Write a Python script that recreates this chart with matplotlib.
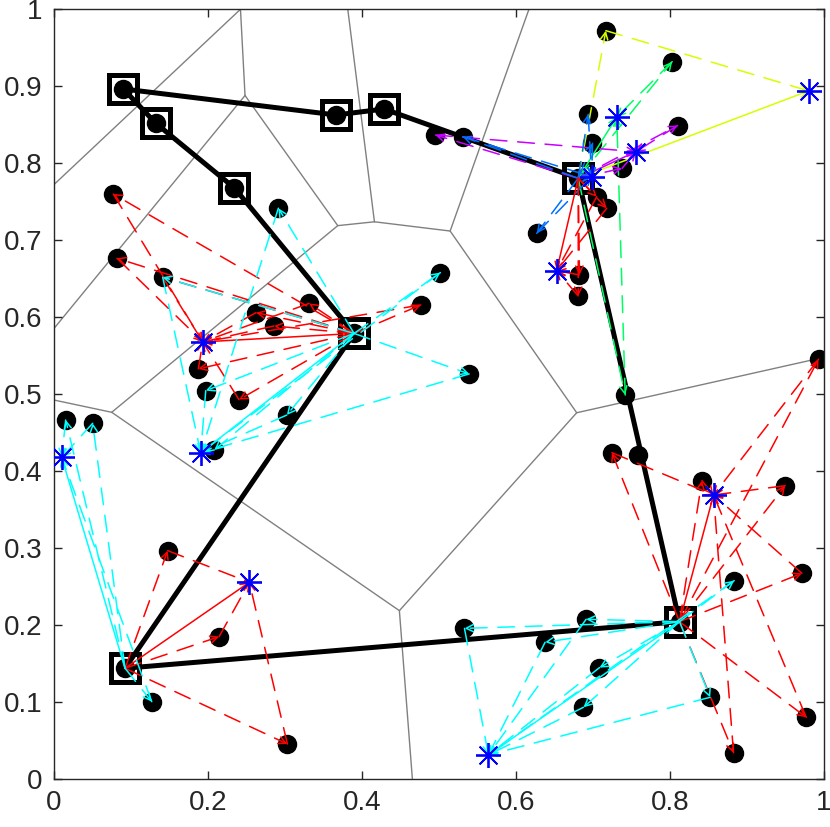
import matplotlib
matplotlib.use('Agg')
from matplotlib import pyplot as plt

plt.rcParams['font.family'] = ['Liberation Sans', 'DejaVu Sans']

# customer points (black dots)
cust_x = [0.0904, 0.1325, 0.2346, 0.3666, 0.429, 0.0774, 0.0822, 0.1415, 0.2917, 0.3316,
          0.2627, 0.286, 0.39, 0.1878, 0.1974, 0.2406, 0.4766, 0.502, 0.5394, 0.3026,
          0.2086, 0.4956, 0.531, 0.7169, 0.803, 0.6939, 0.81, 0.6995, 0.738, 0.681,
          0.705, 0.718, 0.627, 0.6826, 0.681, 0.993, 0.742, 0.0156, 0.0506, 0.148,
          0.2147, 0.0926, 0.1273, 0.3034, 0.7247, 0.758, 0.8416, 0.9497, 0.9714, 0.8835,
          0.8125, 0.5333, 0.6913, 0.638, 0.7086, 0.6878, 0.8523, 0.977, 0.8826]
cust_y = [0.8965, 0.852, 0.768, 0.8627, 0.8705, 0.760, 0.6766, 0.652, 0.7416, 0.618,
          0.606, 0.5887, 0.579, 0.533, 0.5047, 0.493, 0.616, 0.658, 0.5264, 0.473,
          0.4277, 0.8367, 0.8345, 0.9722, 0.932, 0.8636, 0.849, 0.826, 0.7935, 0.7805,
          0.7566, 0.7415, 0.709, 0.655, 0.6277, 0.5455, 0.499, 0.4666, 0.4623, 0.2969,
          0.1852, 0.1442, 0.1008, 0.0458, 0.4242, 0.4212, 0.3878, 0.3813, 0.2675, 0.258,
          0.2047, 0.196, 0.2078, 0.178, 0.145, 0.0935, 0.1065, 0.0805, 0.0345]

# truck tour through the depots (squares)
tour_x = [0.0904, 0.3666, 0.429, 0.681, 0.8125, 0.0926, 0.39, 0.2346, 0.1325, 0.0904]
tour_y = [0.8965, 0.8627, 0.8705, 0.7805, 0.2047, 0.1442, 0.579, 0.768, 0.852, 0.8965]

# voronoi edges
vor_x = [[0.0, 0.2425, 0.2484], [0.2484, 0.0], [0.2484, 0.3688, 0.4164, 0.5147, 0.679, 1.0],
         [0.4164, 0.3818], [0.5147, 0.617], [0.679, 0.4488, 0.4657],
         [0.4488, 0.0753, 0.0], [0.0753, 0.3688]]
vor_y = [[0.772, 1.0, 0.888], [0.888, 0.585], [0.888, 0.719, 0.724, 0.712, 0.476, 0.548],
         [0.724, 1.0], [0.712, 1.0], [0.476, 0.219, 0.0],
         [0.219, 0.4766, 0.4926], [0.4766, 0.719]]

# drone sorties: depot, rendezvous (asterisk), colour, customers served
sortie_depot = [(0.39, 0.579), (0.39, 0.579), (0.0926, 0.1442), (0.0926, 0.1442),
                (0.8125, 0.2047), (0.8125, 0.2047), (0.681, 0.7805), (0.681, 0.7805),
                (0.681, 0.7805), (0.681, 0.7805), (0.681, 0.7805)]
sortie_meet = [(0.1935, 0.568), (0.1909, 0.424), (0.254, 0.2558), (0.0104, 0.418),
               (0.8567, 0.3692), (0.5644, 0.0316), (0.98, 0.894), (0.731, 0.860),
               (0.7558, 0.815), (0.6985, 0.7826), (0.653, 0.6605)]
sortie_color = ['#ff0000', '#00ffff', '#ff0000', '#00ffff', '#ff0000', '#00ffff',
                '#d4ff00', '#00ff66', '#c800ff', '#0070ff', '#ff0000']
sortie_cust = [
    [(0.0774, 0.760), (0.0822, 0.6766), (0.1415, 0.652), (0.3316, 0.618), (0.2627, 0.606),
     (0.286, 0.5887), (0.1878, 0.533), (0.2406, 0.493), (0.4766, 0.616)],
    [(0.2917, 0.7416), (0.1415, 0.652), (0.502, 0.658), (0.5394, 0.5264), (0.1974, 0.5047),
     (0.3026, 0.473), (0.2086, 0.4277)],
    [(0.148, 0.2969), (0.2147, 0.1852), (0.3034, 0.0458)],
    [(0.0156, 0.4666), (0.0506, 0.4623), (0.1273, 0.1008)],
    [(0.7247, 0.4242), (0.8416, 0.3878), (0.9497, 0.3813), (0.9714, 0.2675), (0.993, 0.5455),
     (0.977, 0.0805), (0.8826, 0.0345)],
    [(0.5333, 0.196), (0.6913, 0.2078), (0.638, 0.178), (0.7086, 0.145), (0.6878, 0.0935),
     (0.8523, 0.1065), (0.8835, 0.258)],
    [(0.7169, 0.9722)],
    [(0.803, 0.932), (0.742, 0.499)],
    [(0.4956, 0.8367), (0.81, 0.849), (0.738, 0.7935)],
    [(0.627, 0.709), (0.6939, 0.8636), (0.531, 0.8345), (0.6995, 0.826)],
    [(0.6826, 0.655), (0.681, 0.6277), (0.718, 0.7415), (0.705, 0.7566)],
]

fig = plt.figure(figsize=(8.3, 8.27), dpi=100)
ax = fig.add_axes([0.0647, 0.0577, 0.928, 0.9311])

for vx, vy in zip(vor_x, vor_y):
    ax.plot(vx, vy, color='#808080', lw=1.0, zorder=1)

ax.plot(cust_x, cust_y, 'o', color='k', ms=13, zorder=2)
ax.plot(tour_x, tour_y, '-', color='k', lw=3.6, zorder=3)
ax.plot(tour_x[:-1], tour_y[:-1], 's', mfc='none', mec='k', ms=20, mew=3.6, zorder=3)


def arrow(p, q, c, dashed):
    ls = (0, (11, 7)) if dashed else '-'
    ax.annotate('', xy=q, xytext=p, zorder=4,
                arrowprops=dict(arrowstyle='->', color=c, lw=1.1, ls=ls,
                                shrinkA=0, shrinkB=0, mutation_scale=13))


for d, m, c, custs in zip(sortie_depot, sortie_meet, sortie_color, sortie_cust):
    for p in custs:
        arrow(d, p, c, True)
        arrow(p, m, c, True)
    arrow(d, m, c, False)

ax.plot([m[0] for m in sortie_meet], [m[1] for m in sortie_meet], linestyle='none',
        marker=(8, 2, 0), color='#0000ff', ms=18, mew=1.3, zorder=5)

ax.set_xlim(0, 1)
ax.set_ylim(0, 1)
ax.set_xticks([0, 0.2, 0.4, 0.6, 0.8, 1])
ax.set_xticklabels(['0', '0.2', '0.4', '0.6', '0.8', '1'])
ax.set_yticks([0, 0.1, 0.2, 0.3, 0.4, 0.5, 0.6, 0.7, 0.8, 0.9, 1])
ax.set_yticklabels(['0', '0.1', '0.2', '0.3', '0.4', '0.5', '0.6', '0.7', '0.8', '0.9', '1'])
ax.tick_params(direction='in', length=6, width=1, top=True, right=True,
               labelsize=20, colors='#262626', pad=8)
for s in ax.spines.values():
    s.set_color('#262626')
    s.set_linewidth(1.0)

fig.savefig('out.png', dpi=100)
